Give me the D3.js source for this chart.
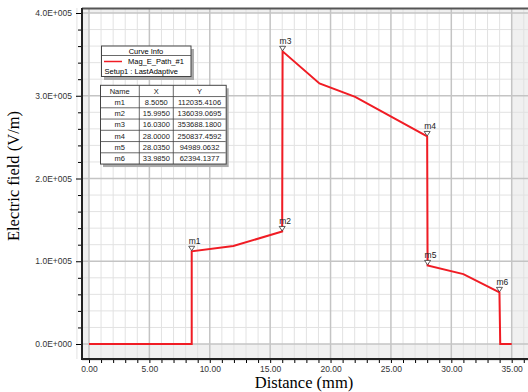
<!DOCTYPE html>
<html>
<head>
<meta charset="utf-8">
<script src="https://cdn.jsdelivr.net/npm/d3@7"></script>
<style>
  body { margin: 0; background: #fff; }
  svg { display: block; }
  .tick text { font-family: "Liberation Sans", Arial, sans-serif; fill: #333; }
</style>
</head>
<body>
<div id="main"></div>
<script>
// curve points (distance in mm, field in V/m)
var curveX = [0, 8.505, 8.505, 11.95, 15.995, 16.03, 19.08, 22.04, 28.0, 28.035, 31.0, 33.985, 34.05, 35.0];
var curveY = [0, 0, 112035, 118400, 136039, 353688, 314900, 298700, 250837, 94989, 84500, 62394, 0, 0];

// markers
var markerNames = ['m1', 'm2', 'm3', 'm4', 'm5', 'm6'];
var markerX = [8.505, 15.995, 16.03, 28.0, 28.035, 33.985];
var markerY = [112035.4106, 136039.0695, 353688.18, 250837.4592, 94989.0632, 62394.1377];
var markerXText = ['8.5050', '15.9950', '16.0300', '28.0000', '28.0350', '33.9850'];
var markerYText = ['112035.4106', '136039.0695', '353688.1800', '250837.4592', '94989.0632', '62394.1377'];

var xTicks = [0, 5, 10, 15, 20, 25, 30, 35];
var yTicks = [0, 100000, 200000, 300000, 400000];

let W = 528, H = 392;
let plot = {left: 82, top: 8, right: 540, bottom: 359};

var svg = d3.select('#main').append('svg')
	.attr('width', W)
	.attr('height', H);

var x = d3.scaleLinear().domain([0, 35]).range([89, 511.7]);
var y = d3.scaleLinear().domain([0, 400000]).range([344, 13]);

// background: shaded outside the data range
svg.append('rect')
	.attr('x', plot.left).attr('y', plot.top)
	.attr('width', plot.right - plot.left).attr('height', plot.bottom - plot.top)
	.attr('fill', '#f0f0f0');
svg.append('rect')
	.attr('x', x(0)).attr('y', y(400000))
	.attr('width', x(35) - x(0)).attr('height', y(0) - y(400000))
	.attr('fill', '#fff');

// grid
var grid = svg.append('g');
grid.selectAll('.vminor')
	.data(d3.range(-1, 38).filter(d => d % 5 !== 0))
	.enter().append('line')
	.attr('x1', d => x(d)).attr('x2', d => x(d))
	.attr('y1', plot.top).attr('y2', plot.bottom)
	.attr('stroke', '#e2e2e2').attr('stroke-width', 1);
grid.selectAll('.hminor')
	.data(d3.range(-20000, 420000, 20000).filter(d => d % 100000 !== 0))
	.enter().append('line')
	.attr('x1', plot.left).attr('x2', plot.right)
	.attr('y1', d => y(d)).attr('y2', d => y(d))
	.attr('stroke', '#e2e2e2').attr('stroke-width', 1);
grid.selectAll('.vmajor')
	.data(xTicks)
	.enter().append('line')
	.attr('x1', d => x(d)).attr('x2', d => x(d))
	.attr('y1', plot.top).attr('y2', plot.bottom)
	.attr('stroke', '#c4c4c4').attr('stroke-width', 1.5);
grid.selectAll('.hmajor')
	.data(yTicks)
	.enter().append('line')
	.attr('x1', plot.left).attr('x2', plot.right)
	.attr('y1', d => y(d)).attr('y2', d => y(d))
	.attr('stroke', '#c4c4c4').attr('stroke-width', 1.5);

// top frame line
svg.append('line')
	.attr('x1', plot.left).attr('x2', plot.right)
	.attr('y1', plot.top + 0.5).attr('y2', plot.top + 0.5)
	.attr('stroke', '#555').attr('stroke-width', 2);

// axes
let fmt = v => v === 0 ? '0.0E+000' : (v / 100000).toFixed(1) + 'E+005';

var yAxis = svg.append('g')
	.attr('transform', 'translate(' + plot.left + ',0)');
yAxis.append('g')
	.call(d3.axisLeft(y).tickValues(d3.range(0, 420000, 20000).filter(d => d % 100000 !== 0)).tickSize(4).tickFormat(''))
	.call(g => g.select('.domain').remove());
yAxis.append('g')
	.call(d3.axisLeft(y).tickValues(yTicks).tickSize(6).tickPadding(4).tickFormat(fmt))
	.call(g => g.select('.domain').remove())
	.selectAll('text').attr('font-size', 8.5);
yAxis.append('line')
	.attr('y1', plot.top).attr('y2', plot.bottom + 1)
	.attr('stroke', '#222').attr('stroke-width', 2);

var xAxis = svg.append('g')
	.attr('transform', 'translate(0,' + plot.bottom + ')');
xAxis.append('g')
	.call(d3.axisBottom(x).tickValues(d3.range(1, 37).filter(d => d % 5 !== 0)).tickSize(4).tickFormat(''))
	.call(g => g.select('.domain').remove());
xAxis.append('g')
	.call(d3.axisBottom(x).tickValues(xTicks).tickSize(4).tickPadding(3).tickFormat(d => d.toFixed(2)))
	.call(g => g.select('.domain').remove())
	.selectAll('text').attr('font-size', 8.5);
xAxis.append('line')
	.attr('x1', plot.left - 1).attr('x2', plot.right)
	.attr('stroke', '#222').attr('stroke-width', 2);

// axis titles
svg.append('text')
	.attr('x', 304).attr('y', 388)
	.attr('text-anchor', 'middle')
	.attr('font-family', '"Liberation Serif", "Times New Roman", serif')
	.attr('font-size', 16.5)
	.text('Distance (mm)');
svg.append('text')
	.attr('transform', 'translate(19,176) rotate(-90)')
	.attr('text-anchor', 'middle')
	.attr('font-family', '"Liberation Serif", "Times New Roman", serif')
	.attr('font-size', 16.5)
	.text('Electric field (V/m)');

// curve
var pts = curveX.map((d, i) => [d, curveY[i]]);
svg.append('path')
	.datum(pts)
	.attr('fill', 'none')
	.attr('stroke', '#f01c24')
	.attr('stroke-width', 2)
	.attr('d', d3.line().x(d => x(d[0])).y(d => y(d[1])));

// markers
var mk = svg.selectAll('.marker')
	.data(markerNames)
	.enter().append('g')
	.attr('transform', (d, i) => 'translate(' + x(markerX[i]) + ',' + y(markerY[i]) + ')');
mk.append('path')
	.attr('d', 'M0,-0.5 L-3,-5 L3,-5 Z')
	.attr('fill', '#fff')
	.attr('stroke', '#333')
	.attr('stroke-width', 0.8);
mk.append('text')
	.attr('x', -3).attr('y', -7)
	.attr('font-family', '"Liberation Sans", Arial, sans-serif')
	.attr('font-size', 8.5)
	.attr('fill', '#222')
	.text(d => d);

// curve info box
var info = svg.append('g');
info.append('rect')
	.attr('x', 104).attr('y', 49).attr('width', 90).attr('height', 31)
	.attr('fill', '#aaa');
info.append('rect')
	.attr('x', 101.5).attr('y', 46).attr('width', 89.5).attr('height', 30.5)
	.attr('fill', '#fff').attr('stroke', '#444').attr('stroke-width', 1);
info.append('line')
	.attr('x1', 101.5).attr('x2', 191).attr('y1', 55.5).attr('y2', 55.5)
	.attr('stroke', '#444').attr('stroke-width', 0.8);
info.append('text')
	.attr('x', 146).attr('y', 53.5).attr('text-anchor', 'middle')
	.attr('font-family', '"Liberation Sans", Arial, sans-serif').attr('font-size', 7.5)
	.text('Curve Info');
info.append('line')
	.attr('x1', 104).attr('x2', 122).attr('y1', 61.5).attr('y2', 61.5)
	.attr('stroke', '#f01c24').attr('stroke-width', 1.5);
info.append('text')
	.attr('x', 128).attr('y', 64).attr('font-family', '"Liberation Sans", Arial, sans-serif').attr('font-size', 7.5)
	.text('Mag_E_Path_#1');
info.append('text')
	.attr('x', 104.5).attr('y', 73.5).attr('font-family', '"Liberation Sans", Arial, sans-serif').attr('font-size', 7.5)
	.text('Setup1 : LastAdaptive');

// marker table
let colX = [100, 139.3, 173.3, 225.7];
let rowH = 11.25, tTop = 85.3;
let rows = [['Name', 'X', 'Y']].concat(markerNames.map((d, i) => [d, markerXText[i], markerYText[i]]));
var tbl = svg.append('g');
tbl.append('rect')
	.attr('x', colX[0] + 3).attr('y', tTop + 3)
	.attr('width', colX[3] - colX[0]).attr('height', rowH * rows.length)
	.attr('fill', '#aaa');
tbl.append('rect')
	.attr('x', colX[0] + 0.5).attr('y', tTop)
	.attr('width', colX[3] - colX[0]).attr('height', rowH * rows.length)
	.attr('fill', '#fff').attr('stroke', '#444').attr('stroke-width', 1);
tbl.selectAll('.hl')
	.data(d3.range(1, rows.length))
	.enter().append('line')
	.attr('x1', colX[0]).attr('x2', colX[3])
	.attr('y1', d => tTop + d * rowH).attr('y2', d => tTop + d * rowH)
	.attr('stroke', '#444').attr('stroke-width', 0.8);
tbl.selectAll('.vl')
	.data([1, 2])
	.enter().append('line')
	.attr('x1', d => colX[d]).attr('x2', d => colX[d])
	.attr('y1', tTop).attr('y2', tTop + rowH * rows.length)
	.attr('stroke', '#444').attr('stroke-width', 0.8);
rows.forEach((r, i) => {
	r.forEach((c, j) => {
		tbl.append('text')
			.attr('x', (colX[j] + colX[j + 1]) / 2)
			.attr('y', tTop + i * rowH + 8.3)
			.attr('text-anchor', 'middle')
			.attr('font-family', '"Liberation Sans", Arial, sans-serif')
			.attr('font-size', 7.5)
			.attr('fill', '#222')
			.text(c);
	});
});
</script>
</body>
</html>
